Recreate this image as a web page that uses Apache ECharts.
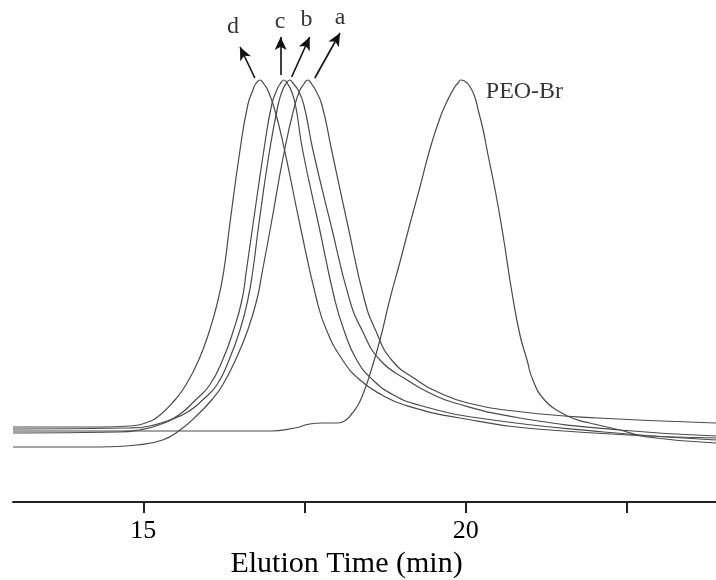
<!DOCTYPE html>
<html>
<head>
<meta charset="utf-8">
<script src="https://cdn.jsdelivr.net/npm/echarts@6/dist/echarts.min.js"></script>
<style>
  html, body { margin: 0; padding: 0; background: #fff; }
  #chart { width: 716px; height: 580px; }
</style>
</head>
<body>
<div id="chart"></div>
<script>
// [elution time (min), detector response (a.u.)]
const traceA = [[12.98,55],[14.33,55],[14.91,57],[15.30,62],[15.57,72],[15.84,87],[16.06,102],[16.23,117],[16.43,142],[16.62,172],[16.76,202],[16.85,232],[16.98,277],[17.19,352],[17.35,397],[17.43,412],[17.49,418],[17.55,422],[17.61,418],[17.67,412],[17.77,397],[17.92,352],[18.17,277],[18.43,202],[18.60,172],[18.85,142],[19.24,122],[19.60,109],[20.03,99],[20.88,90],[22.05,84],[23.88,79]]
const traceB = [[12.98,73],[14.79,74],[15.10,76],[15.41,82],[15.69,90],[15.92,102],[16.14,117],[16.33,142],[16.50,172],[16.62,202],[16.70,232],[16.79,277],[16.96,352],[17.09,397],[17.16,412],[17.21,418],[17.27,422],[17.33,418],[17.40,412],[17.49,397],[17.63,352],[17.91,277],[18.20,202],[18.39,172],[18.67,142],[19.09,122],[19.44,109],[19.83,99],[20.84,84],[22.39,72],[23.88,66]]
const traceC = [[12.98,69],[14.64,70],[14.93,72],[15.24,77],[15.55,87],[15.81,102],[16.03,117],[16.23,142],[16.40,172],[16.53,202],[16.60,232],[16.70,277],[16.87,352],[16.99,397],[17.07,412],[17.12,418],[17.18,422],[17.24,418],[17.29,412],[17.36,397],[17.47,352],[17.72,277],[17.97,202],[18.11,172],[18.31,142],[18.56,122],[18.88,107],[19.27,97],[20.20,84],[22.14,70],[23.88,62]]
const traceD = [[12.98,75],[14.33,75],[14.79,76],[15.07,80],[15.26,87],[15.49,102],[15.66,117],[15.86,142],[16.03,172],[16.16,202],[16.25,232],[16.34,277],[16.50,352],[16.62,397],[16.70,412],[16.74,418],[16.81,422],[16.87,418],[16.93,412],[17.04,392],[17.19,352],[17.43,277],[17.69,202],[17.84,172],[18.09,142],[18.36,122],[18.70,107],[19.05,97],[19.91,84],[21.30,72],[23.88,64]]
const tracePEO = [[12.98,71],[16.96,71],[17.35,74],[17.58,78],[17.77,79],[18.02,79],[18.14,82],[18.23,88],[18.33,97],[18.42,110],[18.51,127],[18.67,162],[18.82,202],[18.98,240],[19.13,277],[19.29,315],[19.44,352],[19.60,384],[19.72,402],[19.83,415],[19.88,419],[19.92,422],[19.98,421],[20.06,416],[20.14,405],[20.20,390],[20.27,372],[20.33,352],[20.47,307],[20.59,262],[20.71,212],[20.84,167],[20.95,142],[21.04,122],[21.22,102],[21.46,90],[21.69,83],[21.92,79],[22.39,72],[22.81,65],[23.88,59]]

// arrows pointing from the peaks to the letters
const arrowFrom = [[16.73,424],[17.13,427],[17.30,425],[17.66,424]]
const arrowTo = [[16.50,455],[17.13,465],[17.58,465],[18.05,469]]
const textLabels = [[16.39,475,'d'],[17.12,480,'c'],[17.53,482,'b'],[18.05,484,'a'],[20.91,410,'PEO-Br']]

const tickValues = [15, 17.5, 20, 22.5]
const labelValues = [15, 20]

const serif = '"Liberation Serif", "DejaVu Serif", serif'
const lineColor = '#4a4a4a'

const chart = echarts.init(document.getElementById('chart'))

const traceSeries = (data) => ({
  type: 'line',
  data: data,
  smooth: 0.5,
  showSymbol: false,
  lineStyle: { color: lineColor, width: 1.2 },
  silent: true
})

const arrows = arrowFrom.map((p, i) => [{ coord: p }, { coord: arrowTo[i] }])

const option = {
  animation: false,
  backgroundColor: '#fff',
  grid: { left: 13, right: 0, top: 0, bottom: 78, outerBoundsMode: 'none' },
  xAxis: {
    type: 'value',
    min: 12.98,
    max: 23.88,
    name: 'Elution Time (min)',
    nameLocation: 'middle',
    nameGap: 47,
    nameTextStyle: { fontFamily: serif, fontSize: 30, color: '#000', padding: [0, 36, 0, 0] },
    axisLine: { lineStyle: { color: '#222', width: 2 } },
    axisTick: { customValues: tickValues, length: 11, lineStyle: { color: '#222', width: 2 } },
    axisLabel: { customValues: labelValues, fontFamily: serif, fontSize: 26, color: '#000', margin: 16 },
    splitLine: { show: false }
  },
  yAxis: { type: 'value', min: 0, max: 502, show: false },
  series: [
    Object.assign(traceSeries(traceA), {
      markLine: {
        silent: true,
        symbol: ['none', 'arrow'],
        symbolSize: [9, 13],
        label: { show: false },
        lineStyle: { color: '#111', width: 1.6, type: 'solid' },
        data: arrows
      }
    }),
    traceSeries(traceB),
    traceSeries(traceC),
    traceSeries(traceD),
    traceSeries(tracePEO),
    {
      type: 'scatter',
      data: textLabels,
      symbolSize: 0,
      silent: true,
      label: {
        show: true,
        position: 'inside',
        formatter: p => p.value[2],
        fontFamily: serif,
        fontSize: 24,
        color: '#000'
      }
    }
  ]
}

chart.setOption(option)
</script>
</body>
</html>
